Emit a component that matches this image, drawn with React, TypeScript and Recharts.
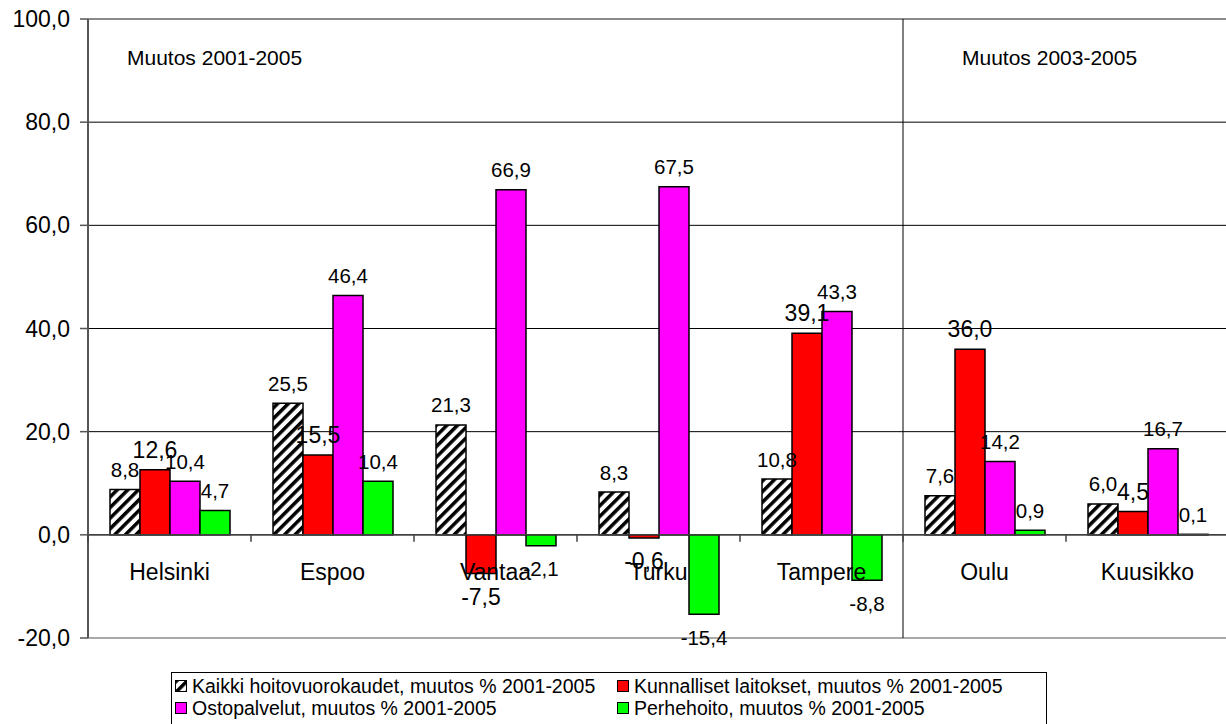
import React from 'react';
import {
  BarChart,
  Bar,
  XAxis,
  YAxis,
  CartesianGrid,
  ReferenceLine,
  LabelList,
  Legend,
} from 'recharts';

// ---------- data ----------
const categories = ['Helsinki', 'Espoo', 'Vantaa', 'Turku', 'Tampere', 'Oulu', 'Kuusikko'];
const kaikki = [8.8, 25.5, 21.3, 8.3, 10.8, 7.6, 6.0];
const kunnalliset = [12.6, 15.5, -7.5, -0.6, 39.1, 36.0, 4.5];
const ostopalvelut = [10.4, 46.4, 66.9, 67.5, 43.3, 14.2, 16.7];
const perhehoito = [4.7, 10.4, -2.1, -15.4, -8.8, 0.9, 0.1];
const seriesNames = [
  'Kaikki hoitovuorokaudet, muutos % 2001-2005',
  'Kunnalliset laitokset, muutos % 2001-2005',
  'Ostopalvelut, muutos % 2001-2005',
  'Perhehoito, muutos % 2001-2005',
];
const yTicks = [-20, 0, 20, 40, 60, 80, 100];
const periodLabels = ['Muutos 2001-2005', 'Muutos 2003-2005'];
const periodStartCategories = ['Helsinki', 'Oulu'];

const data = categories.map((name, i) => ({
  name,
  kaikki: kaikki[i],
  kunnalliset: kunnalliset[i],
  ostopalvelut: ostopalvelut[i],
  perhehoito: perhehoito[i],
}));

// ---------- layout ----------
const CHART_W = 1232;
const CHART_H = 724;
const M_TOP = 19;
const M_RIGHT = 3;
const M_BOTTOM = 56;
const Y_W = 88;
const X_H = 30;
const Y_MIN = -20;
const Y_MAX = 100;
const PLOT_W = CHART_W - Y_W - M_RIGHT;
const PLOT_H = CHART_H - M_TOP - M_BOTTOM - X_H;
const ZERO_Y = M_TOP + ((Y_MAX - 0) / (Y_MAX - Y_MIN)) * PLOT_H;
const BAND = PLOT_W / categories.length;

const FONT = '"Liberation Sans", Arial, Helvetica, sans-serif';

const fmt = (v: number) => Number(v).toFixed(1).replace('.', ',');

const makeLabel = (fontSize: number) => (props: any) => {
  const x = Number(props.x);
  const y = Number(props.y);
  const w = Number(props.width);
  const h = Number(props.height);
  const value = Number(props.value);
  const top = Math.min(y, y + h);
  const bottom = Math.max(y, y + h);
  const cx = x + w / 2;
  const cy = value >= 0 ? top - 20 : bottom + 23;
  return (
    <text
      x={cx}
      y={cy}
      textAnchor="middle"
      dominantBaseline="central"
      fontSize={fontSize}
      fill="#000"
      fontFamily={FONT}
    >
      {fmt(value)}
    </text>
  );
};

const smallLabel = makeLabel(20.5);
const bigLabel = makeLabel(23);

const CategoryTick = (props: any) => {
  const x = Number(props.x);
  const value = props.payload ? props.payload.value : '';
  const bx = x - BAND / 2;
  return (
    <g>
      <line x1={bx} x2={bx} y1={ZERO_Y} y2={ZERO_Y + 7} stroke="#404040" strokeWidth={1.5} />
      <text
        x={x}
        y={ZERO_Y + 37}
        textAnchor="middle"
        dominantBaseline="central"
        fontSize={23}
        fill="#000"
        fontFamily={FONT}
      >
        {value}
      </text>
    </g>
  );
};

const PeriodLabel = (props: any) => {
  const vb = props.viewBox || { x: 0, y: 0 };
  return (
    <text
      x={vb.x + props.dx}
      y={vb.y + 38}
      textAnchor="start"
      dominantBaseline="central"
      fontSize={21}
      fill="#000"
      fontFamily={FONT}
    >
      {props.text}
    </text>
  );
};

const LegendContent = (props: any) => {
  const payload = props.payload || [];
  return (
    <div
      style={{
        border: '1px solid #000',
        background: '#fff',
        display: 'grid',
        gridTemplateColumns: '442px auto',
        padding: '2px 0 12px 3px',
        fontSize: 19.5,
        lineHeight: '22px',
        fontFamily: FONT,
        color: '#000',
        boxSizing: 'border-box',
      }}
    >
      {payload.map((p: any, i: number) => (
        <div key={i} style={{ display: 'flex', alignItems: 'center', whiteSpace: 'nowrap' }}>
          <svg width={12} height={12} style={{ flex: 'none' }}>
            <rect x={0.5} y={0.5} width={11} height={11} fill={p.color} stroke="#000" strokeWidth={1} />
          </svg>
          <span style={{ marginLeft: 5 }}>{p.value}</span>
        </div>
      ))}
    </div>
  );
};

export default function App() {
  return (
    <div
      style={{
        position: 'absolute',
        left: 0,
        top: 0,
        width: 1226,
        height: 724,
        overflow: 'hidden',
        background: '#fff',
        fontFamily: FONT,
      }}
    >
      <svg width={0} height={0} style={{ position: 'absolute' }}>
        <defs>
          <pattern
            id="hatch"
            patternUnits="userSpaceOnUse"
            width={7.5}
            height={7.5}
            patternTransform="rotate(45)"
          >
            <rect width={7.5} height={7.5} fill="#fff" />
            <rect width={3.5} height={7.5} fill="#000" />
          </pattern>
        </defs>
      </svg>
      <BarChart
        width={CHART_W}
        height={CHART_H}
        data={data}
        margin={{ top: M_TOP, right: M_RIGHT, left: 0, bottom: M_BOTTOM }}
        barCategoryGap="13.5%"
        barGap={0}
      >
        <CartesianGrid vertical={false} stroke="#000" strokeWidth={1} />
        <XAxis
          dataKey="name"
          type="category"
          height={X_H}
          axisLine={false}
          tickLine={false}
          interval={0}
          tick={<CategoryTick />}
        />
        <YAxis
          width={Y_W}
          domain={[Y_MIN, Y_MAX]}
          ticks={yTicks}
          interval={0}
          allowDataOverflow
          tickFormatter={fmt}
          tick={{ fontSize: 23, fill: '#000', fontFamily: FONT }}
          axisLine={{ stroke: '#555', strokeWidth: 2 }}
          tickLine={{ stroke: '#555', strokeWidth: 1.5 }}
          tickSize={8}
          tickMargin={10}
        />
        <ReferenceLine y={Y_MAX} stroke="#8a8a8a" strokeWidth={2} />
        <ReferenceLine y={Y_MIN} stroke="#a8a8a8" strokeWidth={2} />
        <ReferenceLine
          x={periodStartCategories[0]}
          position="start"
          stroke="none"
          label={<PeriodLabel text={periodLabels[0]} dx={39} />}
        />
        <ReferenceLine
          x={periodStartCategories[1]}
          position="start"
          stroke="#000"
          strokeWidth={1}
          label={<PeriodLabel text={periodLabels[1]} dx={59} />}
        />
        <Bar
          dataKey="kaikki"
          name={seriesNames[0]}
          fill="url(#hatch)"
          stroke="#000"
          strokeWidth={1.5}
          isAnimationActive={false}
        >
          <LabelList dataKey="kaikki" content={smallLabel} />
        </Bar>
        <Bar
          dataKey="kunnalliset"
          name={seriesNames[1]}
          fill="#ff0000"
          stroke="#000"
          strokeWidth={1.5}
          isAnimationActive={false}
        >
          <LabelList dataKey="kunnalliset" content={bigLabel} />
        </Bar>
        <Bar
          dataKey="ostopalvelut"
          name={seriesNames[2]}
          fill="#ff00ff"
          stroke="#000"
          strokeWidth={1.5}
          isAnimationActive={false}
        >
          <LabelList dataKey="ostopalvelut" content={smallLabel} />
        </Bar>
        <Bar
          dataKey="perhehoito"
          name={seriesNames[3]}
          fill="#00ff00"
          stroke="#000"
          strokeWidth={1.5}
          isAnimationActive={false}
        >
          <LabelList dataKey="perhehoito" content={smallLabel} />
        </Bar>
        <ReferenceLine y={0} stroke="#404040" strokeWidth={1.5} />
        <Legend
          layout="vertical"
          align="center"
          verticalAlign="middle"
          wrapperStyle={{ left: 171, top: 672, width: 876 }}
          content={<LegendContent />}
        />
      </BarChart>
    </div>
  );
}
